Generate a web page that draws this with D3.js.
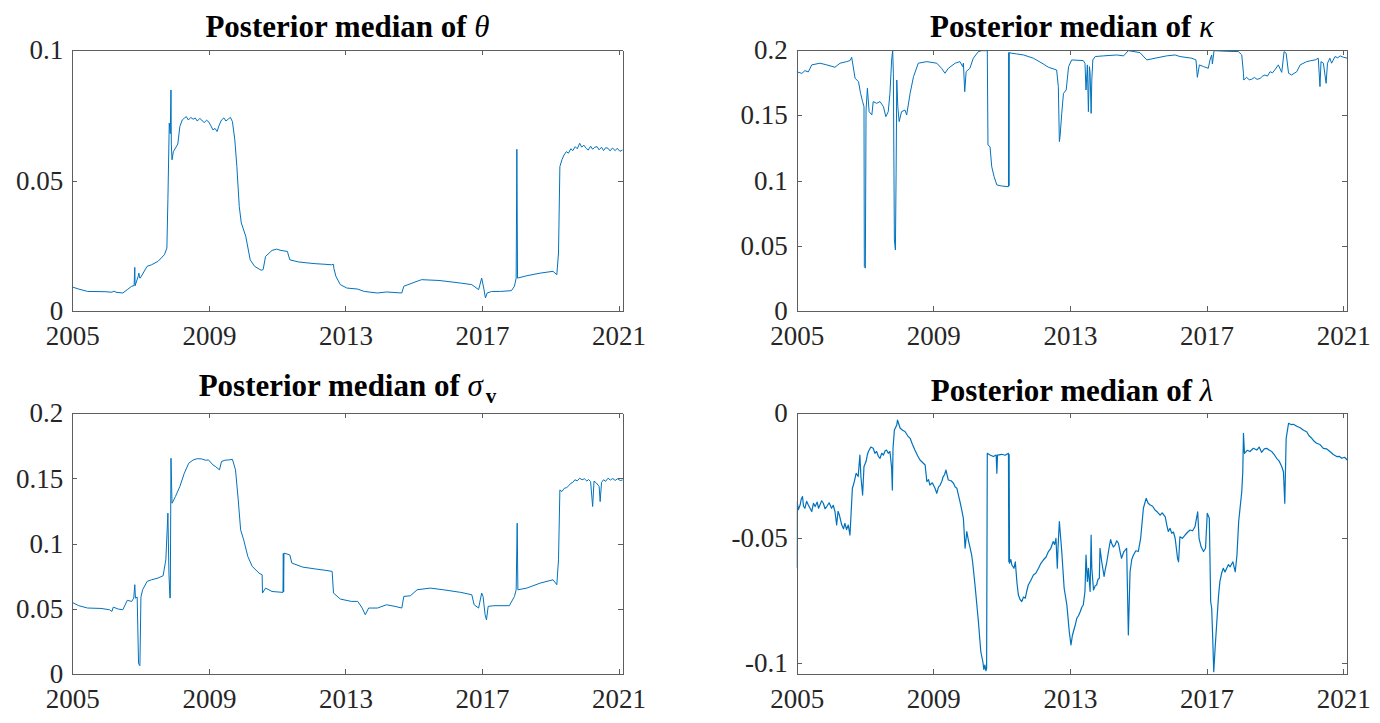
<!DOCTYPE html>
<html>
<head>
<meta charset="utf-8">
<script src="https://cdn.jsdelivr.net/npm/d3@7"></script>
<style>
  body { margin: 0; background: #fff; }
  svg { display: block; }
</style>
</head>
<body>
<script>
// [decimal year, posterior median]
const thetaSeries = [[2005.00,0.0093],[2005.19,0.0085],[2005.45,0.0076],[2005.96,0.0075],[2006.16,0.0073],[2006.22,0.0077],[2006.28,0.0073],[2006.48,0.0070],[2006.61,0.0083],[2006.74,0.0096],[2006.81,0.0098],[2006.83,0.0168],[2006.84,0.0098],[2006.93,0.0134],[2006.95,0.0146],[2006.97,0.0128],[2006.99,0.0127],[2007.19,0.0172],[2007.32,0.0178],[2007.51,0.0191],[2007.70,0.0217],[2007.77,0.0242],[2007.80,0.0427],[2007.84,0.0720],[2007.87,0.0680],[2007.89,0.0847],[2007.90,0.0640],[2007.92,0.0580],[2007.96,0.0611],[2008.09,0.0640],[2008.15,0.0707],[2008.22,0.0732],[2008.28,0.0739],[2008.34,0.0745],[2008.40,0.0732],[2008.47,0.0742],[2008.54,0.0735],[2008.60,0.0740],[2008.66,0.0728],[2008.73,0.0738],[2008.79,0.0732],[2008.86,0.0722],[2008.93,0.0731],[2008.99,0.0726],[2009.05,0.0712],[2009.12,0.0694],[2009.18,0.0700],[2009.24,0.0688],[2009.30,0.0712],[2009.37,0.0732],[2009.44,0.0740],[2009.50,0.0728],[2009.57,0.0736],[2009.63,0.0742],[2009.69,0.0726],[2009.76,0.0656],[2009.82,0.0554],[2009.89,0.0401],[2009.95,0.0338],[2010.08,0.0287],[2010.21,0.0197],[2010.34,0.0172],[2010.53,0.0157],[2010.59,0.0160],[2010.66,0.0210],[2010.85,0.0233],[2010.98,0.0238],[2011.11,0.0233],[2011.30,0.0229],[2011.37,0.0197],[2011.62,0.0189],[2011.90,0.0185],[2012.14,0.0182],[2012.40,0.0180],[2012.59,0.0178],[2012.65,0.0180],[2012.66,0.0165],[2012.72,0.0134],[2012.85,0.0102],[2013.04,0.0089],[2013.36,0.0085],[2013.55,0.0076],[2013.94,0.0070],[2014.20,0.0074],[2014.65,0.0070],[2014.71,0.0096],[2015.10,0.0115],[2015.23,0.0121],[2015.74,0.0118],[2016.38,0.0108],[2016.70,0.0102],[2016.90,0.0083],[2016.99,0.0127],[2017.05,0.0089],[2017.10,0.0051],[2017.15,0.0070],[2017.28,0.0076],[2017.54,0.0076],[2017.86,0.0079],[2017.95,0.0096],[2018.00,0.0127],[2018.02,0.0620],[2018.04,0.0127],[2018.31,0.0136],[2018.70,0.0146],[2019.08,0.0153],[2019.19,0.0140],[2019.24,0.0223],[2019.28,0.0554],[2019.34,0.0580],[2019.40,0.0598],[2019.47,0.0611],[2019.53,0.0605],[2019.60,0.0622],[2019.66,0.0615],[2019.73,0.0630],[2019.79,0.0622],[2019.86,0.0643],[2019.92,0.0628],[2019.98,0.0636],[2020.05,0.0624],[2020.11,0.0617],[2020.18,0.0632],[2020.24,0.0620],[2020.30,0.0628],[2020.37,0.0630],[2020.43,0.0618],[2020.50,0.0628],[2020.56,0.0615],[2020.62,0.0626],[2020.69,0.0624],[2020.75,0.0614],[2020.82,0.0625],[2020.90,0.0615],[2020.96,0.0624],[2021.04,0.0612],[2021.12,0.0618]];

const kappaSeries = [[2005.00,0.1834],[2005.15,0.1821],[2005.24,0.1842],[2005.34,0.1832],[2005.44,0.1886],[2005.68,0.1899],[2005.88,0.1886],[2006.12,0.1868],[2006.27,0.1899],[2006.46,0.1911],[2006.56,0.1919],[2006.61,0.1944],[2006.71,0.1783],[2006.81,0.1758],[2006.87,0.1668],[2006.93,0.1605],[2006.97,0.1566],[2006.98,0.0342],[2007.01,0.0330],[2007.03,0.1540],[2007.07,0.1707],[2007.12,0.1528],[2007.20,0.1503],[2007.24,0.1605],[2007.34,0.1592],[2007.44,0.1605],[2007.54,0.1566],[2007.61,0.1490],[2007.68,0.1528],[2007.73,0.1668],[2007.78,0.1923],[2007.81,0.1998],[2007.83,0.1822],[2007.86,0.0546],[2007.89,0.0469],[2007.91,0.1056],[2007.93,0.1770],[2007.96,0.1566],[2008.00,0.1452],[2008.07,0.1528],[2008.17,0.1540],[2008.22,0.1503],[2008.32,0.1668],[2008.42,0.1796],[2008.56,0.1899],[2008.81,0.1911],[2009.10,0.1899],[2009.24,0.1860],[2009.34,0.1822],[2009.44,0.1860],[2009.64,0.1899],[2009.78,0.1911],[2009.86,0.1873],[2009.88,0.1899],[2009.92,0.1681],[2009.96,0.1834],[2010.07,0.1860],[2010.17,0.1937],[2010.32,0.1988],[2010.42,0.1995],[2010.58,0.1995],[2010.60,0.1273],[2010.66,0.1260],[2010.71,0.1107],[2010.78,0.1030],[2010.86,0.0967],[2011.00,0.0959],[2011.20,0.0954],[2011.21,0.1980],[2011.215,0.0960],[2011.22,0.1980],[2011.30,0.1975],[2011.44,0.1970],[2011.64,0.1962],[2011.93,0.1937],[2012.22,0.1893],[2012.37,0.1868],[2012.61,0.1847],[2012.66,0.1720],[2012.69,0.1299],[2012.71,0.1337],[2012.76,0.1515],[2012.81,0.1668],[2012.89,0.1694],[2012.96,0.1873],[2013.05,0.1924],[2013.39,0.1919],[2013.44,0.1899],[2013.47,0.1694],[2013.51,0.1886],[2013.54,0.1528],[2013.57,0.1873],[2013.59,0.1822],[2013.62,0.1515],[2013.64,0.1770],[2013.67,0.1924],[2013.74,0.1950],[2013.98,0.1955],[2014.37,0.1962],[2014.57,0.1955],[2014.71,0.1995],[2015.05,0.1980],[2015.25,0.1924],[2015.49,0.1937],[2015.83,0.1955],[2016.08,0.1962],[2016.22,0.1950],[2016.57,0.1937],[2016.69,0.1924],[2016.73,0.1791],[2016.79,0.1886],[2016.91,0.1873],[2017.05,0.1860],[2017.10,0.1924],[2017.15,0.1962],[2017.17,0.1893],[2017.22,0.1995],[2017.59,0.1990],[2017.93,0.1988],[2018.03,0.1962],[2018.08,0.1822],[2018.09,0.1770],[2018.17,0.1791],[2018.25,0.1772],[2018.32,0.1776],[2018.40,0.1790],[2018.48,0.1775],[2018.57,0.1783],[2018.64,0.1800],[2018.71,0.1809],[2018.78,0.1800],[2018.86,0.1834],[2018.93,0.1825],[2019.01,0.1852],[2019.10,0.1886],[2019.20,0.1829],[2019.27,0.1988],[2019.33,0.1975],[2019.40,0.1822],[2019.49,0.1809],[2019.64,0.1834],[2019.74,0.1886],[2019.93,0.1911],[2020.05,0.1918],[2020.18,0.1924],[2020.27,0.1937],[2020.32,0.1720],[2020.35,0.1911],[2020.42,0.1899],[2020.50,0.1745],[2020.54,0.1899],[2020.61,0.1937],[2020.66,0.1899],[2020.76,0.1950],[2020.84,0.1940],[2020.91,0.1955],[2021.00,0.1945],[2021.12,0.1937]];

const sigmaSeries = [[2005.00,0.0549],[2005.19,0.0524],[2005.45,0.0506],[2005.84,0.0503],[2006.09,0.0493],[2006.16,0.0480],[2006.20,0.0513],[2006.35,0.0498],[2006.48,0.0493],[2006.61,0.0565],[2006.74,0.0557],[2006.80,0.0582],[2006.83,0.0685],[2006.85,0.0582],[2006.90,0.0590],[2006.94,0.0079],[2006.98,0.0064],[2007.01,0.0590],[2007.06,0.0646],[2007.19,0.0710],[2007.32,0.0723],[2007.51,0.0736],[2007.66,0.0754],[2007.74,0.0876],[2007.80,0.1234],[2007.83,0.0774],[2007.86,0.0582],[2007.87,0.0590],[2007.89,0.1655],[2007.92,0.1310],[2008.02,0.1361],[2008.15,0.1438],[2008.28,0.1540],[2008.41,0.1617],[2008.54,0.1642],[2008.66,0.1652],[2008.79,0.1650],[2008.90,0.1640],[2008.99,0.1642],[2009.12,0.1604],[2009.20,0.1590],[2009.31,0.1566],[2009.37,0.1630],[2009.47,0.1640],[2009.57,0.1642],[2009.69,0.1647],[2009.78,0.1566],[2009.86,0.1336],[2009.93,0.1106],[2010.02,0.1029],[2010.14,0.0902],[2010.27,0.0825],[2010.47,0.0774],[2010.56,0.0761],[2010.57,0.0621],[2010.66,0.0659],[2010.85,0.0633],[2011.17,0.0626],[2011.18,0.0925],[2011.19,0.0630],[2011.20,0.0927],[2011.37,0.0914],[2011.43,0.0851],[2011.75,0.0820],[2012.14,0.0805],[2012.46,0.0794],[2012.61,0.0787],[2012.65,0.0621],[2012.85,0.0575],[2013.17,0.0557],[2013.36,0.0557],[2013.49,0.0506],[2013.58,0.0455],[2013.68,0.0506],[2013.94,0.0506],[2014.20,0.0531],[2014.45,0.0519],[2014.65,0.0506],[2014.71,0.0595],[2014.90,0.0600],[2015.10,0.0646],[2015.48,0.0659],[2015.87,0.0646],[2016.38,0.0626],[2016.70,0.0608],[2016.77,0.0531],[2016.90,0.0506],[2016.99,0.0621],[2017.03,0.0595],[2017.09,0.0455],[2017.13,0.0416],[2017.18,0.0519],[2017.35,0.0524],[2017.80,0.0524],[2017.95,0.0595],[2018.00,0.0646],[2018.03,0.1157],[2018.05,0.0646],[2018.31,0.0659],[2018.70,0.0697],[2019.08,0.0723],[2019.19,0.0685],[2019.24,0.0876],[2019.28,0.1412],[2019.34,0.1400],[2019.41,0.1425],[2019.48,0.1430],[2019.54,0.1445],[2019.60,0.1463],[2019.66,0.1470],[2019.72,0.1490],[2019.79,0.1482],[2019.86,0.1502],[2019.93,0.1490],[2020.00,0.1498],[2020.07,0.1480],[2020.12,0.1492],[2020.18,0.1476],[2020.24,0.1285],[2020.28,0.1480],[2020.35,0.1465],[2020.43,0.1438],[2020.46,0.1323],[2020.50,0.1470],[2020.56,0.1490],[2020.62,0.1478],[2020.69,0.1502],[2020.76,0.1488],[2020.83,0.1500],[2020.90,0.1485],[2020.97,0.1498],[2021.05,0.1484],[2021.12,0.1489]];

const lambdaSeries = [[2005.00,-0.0620],[2005.01,-0.0353],[2005.05,-0.0385],[2005.10,-0.0367],[2005.13,-0.0345],[2005.17,-0.0333],[2005.20,-0.0372],[2005.24,-0.0380],[2005.29,-0.0352],[2005.34,-0.0367],[2005.39,-0.0380],[2005.44,-0.0393],[2005.49,-0.0360],[2005.54,-0.0373],[2005.60,-0.0355],[2005.64,-0.0380],[2005.68,-0.0367],[2005.73,-0.0350],[2005.78,-0.0360],[2005.83,-0.0382],[2005.88,-0.0373],[2005.95,-0.0358],[2006.02,-0.0380],[2006.07,-0.0368],[2006.12,-0.0393],[2006.17,-0.0447],[2006.21,-0.0392],[2006.25,-0.0407],[2006.29,-0.0430],[2006.32,-0.0447],[2006.37,-0.0462],[2006.41,-0.0440],[2006.46,-0.0465],[2006.51,-0.0447],[2006.56,-0.0487],[2006.59,-0.0407],[2006.63,-0.0300],[2006.66,-0.0287],[2006.70,-0.0265],[2006.74,-0.0240],[2006.80,-0.0253],[2006.85,-0.0167],[2006.88,-0.0253],[2006.93,-0.0327],[2006.97,-0.0213],[2007.03,-0.0193],[2007.07,-0.0165],[2007.10,-0.0153],[2007.17,-0.0135],[2007.24,-0.0140],[2007.29,-0.0160],[2007.34,-0.0153],[2007.39,-0.0172],[2007.44,-0.0180],[2007.49,-0.0160],[2007.54,-0.0167],[2007.59,-0.0150],[2007.63,-0.0147],[2007.68,-0.0160],[2007.73,-0.0153],[2007.78,-0.0220],[2007.80,-0.0307],[2007.82,-0.0140],[2007.86,-0.0067],[2007.93,-0.0047],[2007.95,-0.0027],[2008.03,-0.0060],[2008.10,-0.0068],[2008.17,-0.0073],[2008.25,-0.0090],[2008.32,-0.0100],[2008.39,-0.0125],[2008.46,-0.0147],[2008.54,-0.0170],[2008.61,-0.0187],[2008.71,-0.0200],[2008.76,-0.0207],[2008.81,-0.0273],[2008.86,-0.0265],[2008.90,-0.0287],[2008.97,-0.0278],[2009.05,-0.0300],[2009.10,-0.0320],[2009.15,-0.0295],[2009.20,-0.0287],[2009.25,-0.0272],[2009.29,-0.0253],[2009.33,-0.0245],[2009.37,-0.0227],[2009.41,-0.0250],[2009.44,-0.0267],[2009.52,-0.0270],[2009.59,-0.0280],[2009.64,-0.0295],[2009.69,-0.0300],[2009.74,-0.0330],[2009.78,-0.0353],[2009.83,-0.0385],[2009.88,-0.0420],[2009.93,-0.0540],[2009.98,-0.0473],[2010.03,-0.0510],[2010.08,-0.0540],[2010.12,-0.0565],[2010.15,-0.0594],[2010.22,-0.0687],[2010.27,-0.0760],[2010.32,-0.0834],[2010.39,-0.0954],[2010.45,-0.0994],[2010.48,-0.1025],[2010.51,-0.1007],[2010.54,-0.1030],[2010.56,-0.1020],[2010.58,-0.0160],[2010.66,-0.0167],[2010.76,-0.0173],[2010.84,-0.0167],[2010.86,-0.0240],[2010.88,-0.0167],[2011.00,-0.0164],[2011.10,-0.0168],[2011.20,-0.0160],[2011.21,-0.0594],[2011.22,-0.0165],[2011.23,-0.0600],[2011.27,-0.0585],[2011.30,-0.0607],[2011.36,-0.0620],[2011.40,-0.0594],[2011.45,-0.0680],[2011.49,-0.0727],[2011.54,-0.0745],[2011.59,-0.0753],[2011.64,-0.0735],[2011.69,-0.0740],[2011.73,-0.0715],[2011.78,-0.0687],[2011.85,-0.0670],[2011.93,-0.0647],[2012.00,-0.0640],[2012.08,-0.0620],[2012.15,-0.0600],[2012.22,-0.0587],[2012.30,-0.0575],[2012.37,-0.0553],[2012.44,-0.0540],[2012.51,-0.0513],[2012.55,-0.0525],[2012.59,-0.0500],[2012.63,-0.0620],[2012.65,-0.0540],[2012.69,-0.0433],[2012.76,-0.0553],[2012.83,-0.0700],[2012.91,-0.0767],[2012.98,-0.0874],[2013.03,-0.0927],[2013.07,-0.0890],[2013.10,-0.0874],[2013.15,-0.0850],[2013.20,-0.0820],[2013.25,-0.0810],[2013.30,-0.0794],[2013.35,-0.0775],[2013.39,-0.0767],[2013.44,-0.0713],[2013.47,-0.0567],[2013.51,-0.0673],[2013.54,-0.0620],[2013.59,-0.0713],[2013.62,-0.0487],[2013.64,-0.0620],[2013.69,-0.0707],[2013.74,-0.0690],[2013.78,-0.0687],[2013.82,-0.0665],[2013.86,-0.0660],[2013.88,-0.0540],[2013.93,-0.0594],[2014.00,-0.0653],[2014.04,-0.0620],[2014.08,-0.0594],[2014.12,-0.0560],[2014.16,-0.0527],[2014.19,-0.0505],[2014.22,-0.0520],[2014.27,-0.0535],[2014.32,-0.0527],[2014.37,-0.0510],[2014.42,-0.0520],[2014.47,-0.0555],[2014.51,-0.0580],[2014.58,-0.0553],[2014.66,-0.0540],[2014.71,-0.0887],[2014.76,-0.0634],[2014.81,-0.0585],[2014.86,-0.0567],[2014.93,-0.0550],[2015.00,-0.0553],[2015.07,-0.0500],[2015.15,-0.0380],[2015.23,-0.0340],[2015.29,-0.0360],[2015.35,-0.0367],[2015.42,-0.0372],[2015.49,-0.0387],[2015.56,-0.0395],[2015.64,-0.0407],[2015.70,-0.0398],[2015.79,-0.0414],[2015.84,-0.0450],[2015.88,-0.0473],[2015.93,-0.0460],[2015.98,-0.0480],[2016.03,-0.0475],[2016.08,-0.0500],[2016.15,-0.0580],[2016.18,-0.0594],[2016.22,-0.0494],[2016.29,-0.0500],[2016.37,-0.0487],[2016.45,-0.0475],[2016.52,-0.0467],[2016.59,-0.0470],[2016.66,-0.0454],[2016.74,-0.0394],[2016.78,-0.0500],[2016.84,-0.0534],[2016.91,-0.0553],[2016.97,-0.0540],[2017.02,-0.0400],[2017.08,-0.0420],[2017.12,-0.0753],[2017.15,-0.0780],[2017.18,-0.0900],[2017.21,-0.1034],[2017.25,-0.0940],[2017.30,-0.0834],[2017.35,-0.0730],[2017.39,-0.0673],[2017.44,-0.0640],[2017.49,-0.0620],[2017.54,-0.0635],[2017.59,-0.0620],[2017.64,-0.0605],[2017.69,-0.0614],[2017.77,-0.0594],[2017.84,-0.0634],[2017.89,-0.0567],[2017.94,-0.0433],[2018.00,-0.0353],[2018.03,-0.0314],[2018.06,-0.0234],[2018.08,-0.0080],[2018.11,-0.0160],[2018.19,-0.0148],[2018.27,-0.0153],[2018.37,-0.0140],[2018.47,-0.0147],[2018.54,-0.0135],[2018.61,-0.0156],[2018.69,-0.0142],[2018.76,-0.0140],[2018.84,-0.0148],[2018.91,-0.0153],[2018.98,-0.0165],[2019.05,-0.0180],[2019.12,-0.0190],[2019.20,-0.0213],[2019.25,-0.0234],[2019.29,-0.0360],[2019.33,-0.0100],[2019.40,-0.0040],[2019.47,-0.0045],[2019.54,-0.0044],[2019.64,-0.0052],[2019.74,-0.0058],[2019.84,-0.0068],[2019.93,-0.0074],[2020.00,-0.0090],[2020.08,-0.0100],[2020.15,-0.0112],[2020.22,-0.0120],[2020.32,-0.0125],[2020.42,-0.0140],[2020.51,-0.0142],[2020.61,-0.0153],[2020.71,-0.0165],[2020.81,-0.0173],[2020.88,-0.0172],[2020.96,-0.0180],[2021.04,-0.0176],[2021.12,-0.0187]];

const yearTicks = [2005, 2009, 2013, 2017, 2021];
const yearRange = [2005, 2021.12];

const width = 1380, height = 723;
const lineColor = "#0072bd", axisColor = "#5e5e5e", labelColor = "#262626";
const serif = '"Liberation Serif", "Times New Roman", Times, serif';

const svg = d3.select("body").append("svg")
    .attr("width", width)
    .attr("height", height);

function drawPanel(cfg, id) {
  const x = d3.scaleLinear().domain(yearRange).range([cfg.left, cfg.right]);
  const y = d3.scaleLinear().domain(cfg.yDomain).range([cfg.bottom, cfg.top]);
  const g = svg.append("g");

  g.append("clipPath").attr("id", "clip" + id)
    .append("rect")
    .attr("x", cfg.left).attr("y", cfg.top)
    .attr("width", cfg.right - cfg.left).attr("height", cfg.bottom - cfg.top);

  const line = d3.line().x(d => x(d[0])).y(d => y(d[1]));
  g.append("path")
    .datum(cfg.series)
    .attr("clip-path", "url(#clip" + id + ")")
    .attr("fill", "none")
    .attr("stroke", lineColor)
    .attr("stroke-width", cfg.lineWidth)
    .attr("stroke-linejoin", "round")
    .attr("d", line);

  const fmt = d => String(+d.toFixed(3));

  const axes = [
    [d3.axisBottom(x).tickValues(yearTicks).tickFormat(d => String(d)).tickPadding(15), cfg.bottom, 0],
    [d3.axisTop(x).tickValues(yearTicks).tickFormat(""), cfg.top, 0],
    [d3.axisLeft(y).tickValues(cfg.yTicks).tickFormat(fmt).tickPadding(9), 0, cfg.left],
    [d3.axisRight(y).tickValues(cfg.yTicks).tickFormat(""), 0, cfg.right]
  ];
  axes.forEach(([ax, ty, tx]) => {
    const a = g.append("g")
      .attr("transform", `translate(${tx},${ty})`)
      .call(ax.tickSizeInner(-5).tickSizeOuter(0));
    a.selectAll("path, line").attr("stroke", axisColor).attr("shape-rendering", "crispEdges");
    a.selectAll("text")
      .style("font-family", serif)
      .style("font-size", "27px")
      .attr("fill", labelColor);
  });

  const title = g.append("text")
    .attr("x", (cfg.left + cfg.right) / 2)
    .attr("y", cfg.titleY)
    .attr("text-anchor", "middle")
    .style("font-family", serif)
    .style("font-size", "31px")
    .style("font-weight", "bold")
    .attr("fill", "#000")
    .text("Posterior median of ");
  title.append("tspan").style("font-style", "italic").style("font-weight", "normal").text(cfg.symbol);
  if (cfg.sub) {
    title.append("tspan").style("font-size", "21px").attr("dx", 3).attr("dy", 7).text(cfg.sub);
  }
}

const panels = [
  {symbol: "θ", series: thetaSeries, yDomain: [0, 0.1], yTicks: [0, 0.05, 0.1], lineWidth: 1,
   left: 72.3, right: 622.7, top: 50, bottom: 311.3, titleY: 36.7},
  {symbol: "κ", series: kappaSeries, yDomain: [0, 0.2], yTicks: [0, 0.05, 0.1, 0.15, 0.2], lineWidth: 1,
   left: 796.7, right: 1347.3, top: 50, bottom: 311.3, titleY: 36.5},
  {symbol: "σ", sub: "v", series: sigmaSeries, yDomain: [0, 0.2], yTicks: [0, 0.05, 0.1, 0.15, 0.2], lineWidth: 1,
   left: 72.3, right: 622.7, top: 413.3, bottom: 674, titleY: 396},
  {symbol: "λ", series: lambdaSeries, yDomain: [-0.1043, 0], yTicks: [-0.1, -0.05, 0], lineWidth: 1.2,
   left: 796.7, right: 1347.3, top: 413.3, bottom: 674, titleY: 400.5}
];

panels.forEach((p, i) => drawPanel(p, i));
</script>
</body>
</html>
